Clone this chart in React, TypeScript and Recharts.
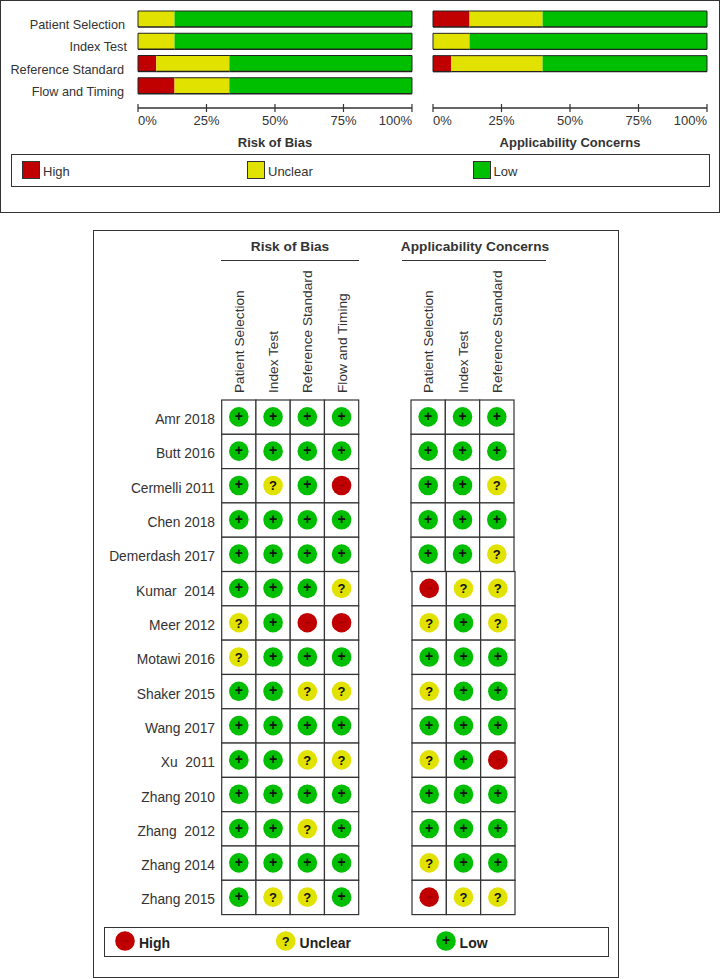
import React from 'react'
import { BarChart, Bar, ScatterChart, Scatter, XAxis, YAxis } from 'recharts'

const FONT = '"Liberation Sans", Arial, sans-serif'
const RED = '#C00000'
const YELLOW = '#E2E200'
const GREEN = '#00BE00'
const LINE = '#333333'

// summary graph, percent of studies
const biasDomains = ['Patient Selection', 'Index Test', 'Reference Standard', 'Flow and Timing']
const biasHigh = [0, 0, 6.67, 13.33]
const biasUnclear = [13.33, 13.33, 26.67, 20]
const biasLow = [86.67, 86.67, 66.67, 66.67]

const concernDomains = ['Patient Selection', 'Index Test', 'Reference Standard']
const concernHigh = [13.33, 0, 6.67]
const concernUnclear = [26.67, 13.33, 33.33]
const concernLow = [60, 86.67, 60]

const percentTicks = [0, 25, 50, 75, 100]

// per study judgements
const studies = [
  'Amr 2018',
  'Butt 2016',
  'Cermelli 2011',
  'Chen 2018',
  'Demerdash 2017',
  'Kumar  2014',
  'Meer 2012',
  'Motawi 2016',
  'Shaker 2015',
  'Wang 2017',
  'Xu  2011',
  'Zhang 2010',
  'Zhang  2012',
  'Zhang 2014',
  'Zhang 2015',
]

const biasRatings = [
  ['+', '+', '+', '+'],
  ['+', '+', '+', '+'],
  ['+', '?', '+', '-'],
  ['+', '+', '+', '+'],
  ['+', '+', '+', '+'],
  ['+', '+', '+', '?'],
  ['?', '+', '-', '-'],
  ['?', '+', '+', '+'],
  ['+', '+', '?', '?'],
  ['+', '+', '+', '+'],
  ['+', '+', '?', '?'],
  ['+', '+', '+', '+'],
  ['+', '+', '?', '+'],
  ['+', '+', '+', '+'],
  ['+', '?', '?', '+'],
]

const concernRatings = [
  ['+', '+', '+'],
  ['+', '+', '+'],
  ['+', '+', '?'],
  ['+', '+', '+'],
  ['+', '+', '?'],
  ['-', '?', '?'],
  ['?', '+', '?'],
  ['+', '+', '+'],
  ['?', '+', '+'],
  ['+', '+', '+'],
  ['?', '+', '-'],
  ['+', '+', '+'],
  ['+', '+', '+'],
  ['?', '+', '+'],
  ['-', '?', '?'],
]

function summaryRows(names: string[], high: number[], unclear: number[], low: number[]) {
  return names.map((name, i) => ({ name, high: high[i], unclear: unclear[i], low: low[i] }))
}

function ratingPoints(ratings: string[][]) {
  return ratings.flatMap((row, r) => row.map((rating, c) => ({ col: c, row: r, rating })))
}

const rowTicks = studies.map((_, i) => i)

function Segment(part: 'high' | 'unclear' | 'low') {
  return (p: any) => {
    const { x, y, width, height, fill, payload } = p
    if (!width) return <g />
    const left = part === 'high' || (part === 'unclear' && payload.high === 0)
    const right = part === 'low'
    return (
      <g>
        <rect x={x} y={y} width={width} height={height} fill={fill} />
        <line x1={x} x2={x + width} y1={y} y2={y} stroke="#222" strokeWidth={1} />
        <line x1={x} x2={x + width} y1={y + height} y2={y + height} stroke="#222" strokeWidth={1.4} />
        {left && <line x1={x} x2={x} y1={y} y2={y + height} stroke="#222" strokeWidth={1} />}
        {right && <line x1={x + width} x2={x + width} y1={y} y2={y + height} stroke="#222" strokeWidth={1} />}
      </g>
    )
  }
}

function PercentTick({ x, y, payload }: any) {
  const v = payload.value
  const anchor = v === 0 ? 'start' : v === 100 ? 'end' : 'middle'
  return (
    <g>
      <line x1={x} x2={x} y1={y - 4} y2={y + 4} stroke={LINE} strokeWidth={1.2} />
      <text x={x} y={y + 17} textAnchor={anchor} fontSize={13} fontFamily={FONT} fill={LINE}>
        {v}%
      </text>
    </g>
  )
}

function DomainLabel({ y, payload }: any) {
  // the labels in the original are not quite flush
  const right = payload.value === 'Index Test' ? 127 : payload.value === 'Patient Selection' ? 125 : 124
  return (
    <text x={right} y={y + 10} textAnchor="end" fontSize={12.7} fontFamily={FONT} fill={LINE}>
      {payload.value}
    </text>
  )
}

function SummaryChart({ rows, title, left, width, plotLeft, plotRight, showLabels, gapBottom }: any) {
  return (
    <div style={{ position: 'absolute', left, top: 0 }}>
      <BarChart
        width={width}
        height={150}
        data={rows}
        layout="vertical"
        margin={{ top: 8, right: plotRight, bottom: 0, left: showLabels ? 0 : plotLeft }}
      >
        <XAxis
          type="number"
          domain={[0, 100]}
          ticks={percentTicks}
          interval={0}
          height={42}
          tickSize={0}
          tickMargin={0}
          tickLine={false}
          axisLine={{ stroke: LINE, strokeWidth: 1.5 }}
          tick={<PercentTick />}
        />
        <YAxis
          type="category"
          dataKey="name"
          width={plotLeft}
          hide={!showLabels}
          padding={{ top: 0, bottom: gapBottom }}
          interval={0}
          tickLine={false}
          axisLine={false}
          tickSize={0}
          tick={<DomainLabel />}
        />
        <Bar dataKey="high" stackId="a" fill={RED} barSize={16} shape={Segment('high')} isAnimationActive={false} />
        <Bar dataKey="unclear" stackId="a" fill={YELLOW} barSize={16} shape={Segment('unclear')} isAnimationActive={false} />
        <Bar dataKey="low" stackId="a" fill={GREEN} barSize={16} shape={Segment('low')} isAnimationActive={false} />
      </BarChart>
      <div
        style={{
          position: 'absolute',
          left: plotLeft,
          width: width - plotLeft - plotRight,
          top: 134,
          textAlign: 'center',
          fontFamily: FONT,
          fontSize: 13,
          fontWeight: 'bold',
          color: LINE,
          lineHeight: '18px',
        }}
      >
        {title}
      </div>
    </div>
  )
}

function RatingMark({ cx, cy, rating }: { cx: number; cy: number; rating: string }) {
  const fill = rating === '+' ? GREEN : rating === '?' ? YELLOW : RED
  return (
    <g>
      <circle cx={cx} cy={cy} r={9.8} fill={fill} />
      {rating === '-' ? (
        <line x1={cx - 2} x2={cx + 3} y1={cy} y2={cy} stroke="#8a0000" strokeWidth={1} />
      ) : (
        <text
          x={cx}
          y={rating === '+' ? cy + 4 : cy + 5}
          textAnchor="middle"
          fontSize={rating === '+' ? 14 : 13}
          fontWeight="bold"
          fontFamily={FONT}
          fill="#111"
        >
          {rating}
        </text>
      )}
    </g>
  )
}

function ratingCell(cellSize: number, shiftFrom: number) {
  return (p: any) => {
    const { cx, cy, payload } = p
    const dx = payload.row >= shiftFrom ? 1 : 0
    return (
      <g>
        <rect
          x={cx + dx - cellSize / 2}
          y={cy - 17.15}
          width={cellSize}
          height={34.3}
          fill="#fff"
          stroke={LINE}
          strokeWidth={1.2}
        />
        <RatingMark cx={cx + dx} cy={cy - 0.3} rating={payload.rating} />
      </g>
    )
  }
}

function StudyTick({ y, payload }: any) {
  return (
    <text
      x={215}
      y={y + 7}
      textAnchor="end"
      fontSize={13.8}
      fontFamily={FONT}
      fill={LINE}
      style={{ whiteSpace: 'pre' }}
    >
      {studies[payload.value]}
    </text>
  )
}

function headerTick(names: string[]) {
  return ({ x, payload }: any) => (
    <text
      x={x + 5}
      y={393}
      transform={`rotate(-90 ${x + 5} 393)`}
      fontSize={13.7}
      fontFamily={FONT}
      fill={LINE}
    >
      {names[payload.value]}
    </text>
  )
}

function RatingChart({ ratings, names, left, width, marginLeft, marginRight, showStudies, shiftFrom, cellSize }: any) {
  return (
    <div style={{ position: 'absolute', left, top: 0 }}>
      <ScatterChart
        width={width}
        height={920}
        margin={{ top: 0, right: marginRight, bottom: 5.4, left: showStudies ? 0 : marginLeft }}
      >
        <XAxis
          type="number"
          dataKey="col"
          xAxisId="x"
          orientation="top"
          domain={[-0.5, names.length - 0.5]}
          ticks={names.map((_: string, i: number) => i)}
          interval={0}
          height={400}
          tickSize={0}
          tickLine={false}
          axisLine={false}
          tick={headerTick(names)}
        />
        <YAxis
          type="number"
          dataKey="row"
          yAxisId="y"
          reversed
          domain={[-0.5, studies.length - 0.5]}
          ticks={rowTicks}
          interval={0}
          width={marginLeft}
          hide={!showStudies}
          tickSize={0}
          tickLine={false}
          axisLine={false}
          tick={<StudyTick />}
        />
        <Scatter
          data={ratingPoints(ratings)}
          xAxisId="x"
          yAxisId="y"
          shape={ratingCell(cellSize, shiftFrom)}
          isAnimationActive={false}
        />
      </ScatterChart>
    </div>
  )
}

const summaryLegend = [
  { label: 'High', color: RED, swatch: 22, text: 43 },
  { label: 'Unclear', color: YELLOW, swatch: 247, text: 268 },
  { label: 'Low', color: GREEN, swatch: 472.5, text: 493.6 },
]

const ratingLegend = [
  { label: 'High', rating: '-', cx: 125, text: 139 },
  { label: 'Unclear', rating: '?', cx: 285.7, text: 299.6 },
  { label: 'Low', rating: '+', cx: 446, text: 459.6 },
]

function box(left: number, top: number, width: number, height: number, border = 1): React.CSSProperties {
  return {
    position: 'absolute',
    left,
    top,
    width,
    height,
    border: `${border}px solid ${LINE}`,
    boxSizing: 'border-box',
    background: '#fff',
  }
}

const panelTitle: React.CSSProperties = {
  position: 'absolute',
  top: 238,
  textAlign: 'center',
  fontFamily: FONT,
  fontSize: 13.7,
  fontWeight: 'bold',
  lineHeight: '18px',
  color: LINE,
}

export default function App() {
  return (
    <div style={{ position: 'absolute', left: 0, top: 0, width: 720, height: 979, background: '#fff', overflow: 'hidden' }}>
      <div style={box(0, 0, 720, 213, 1.5)} />
      <SummaryChart
        rows={summaryRows(biasDomains, biasHigh, biasUnclear, biasLow)}
        title="Risk of Bias"
        left={0}
        width={420}
        plotLeft={138}
        plotRight={8}
        showLabels
        gapBottom={11}
      />
      <SummaryChart
        rows={summaryRows(concernDomains, concernHigh, concernUnclear, concernLow)}
        title="Applicability Concerns"
        left={420}
        width={300}
        plotLeft={13}
        plotRight={13}
        showLabels={false}
        gapBottom={33}
      />

      <div style={box(11, 154, 699, 33, 1.2)} />
      {summaryLegend.map((item) => (
        <React.Fragment key={item.label}>
          <div style={{ ...box(item.swatch, 161, 18, 18, 1), background: item.color }} />
          <div
            style={{
              position: 'absolute',
              left: item.text,
              top: 163,
              fontFamily: FONT,
              fontSize: 13,
              lineHeight: '18px',
              color: LINE,
            }}
          >
            {item.label}
          </div>
        </React.Fragment>
      ))}

      <div style={box(93, 230, 526, 748, 1.2)} />
      <div style={{ ...panelTitle, left: 221, width: 138 }}>Risk of Bias</div>
      <div style={{ position: 'absolute', left: 221, width: 138, top: 260, height: 1, background: LINE }} />
      <div style={{ ...panelTitle, left: 393, width: 164 }}>Applicability Concerns</div>
      <div style={{ position: 'absolute', left: 402, width: 144, top: 260, height: 1, background: LINE }} />

      <RatingChart
        ratings={biasRatings}
        names={biasDomains}
        left={0}
        width={370}
        marginLeft={221.7}
        marginRight={11.3}
        showStudies
        shiftFrom={99}
        cellSize={34.25}
      />
      <RatingChart
        ratings={concernRatings}
        names={concernDomains}
        left={380}
        width={150}
        marginLeft={31}
        marginRight={16}
        showStudies={false}
        shiftFrom={5}
        cellSize={34.33}
      />

      <div style={box(104, 927, 505, 30, 1.2)} />
      <svg style={{ position: 'absolute', left: 0, top: 920 }} width={720} height={45}>
        {ratingLegend.map((item) => (
          <g key={item.label}>
            <RatingMark cx={item.cx} cy={21} rating={item.rating} />
            <text x={item.text} y={28} fontSize={14} fontWeight="bold" fontFamily={FONT} fill="#222">
              {item.label}
            </text>
          </g>
        ))}
      </svg>
    </div>
  )
}
